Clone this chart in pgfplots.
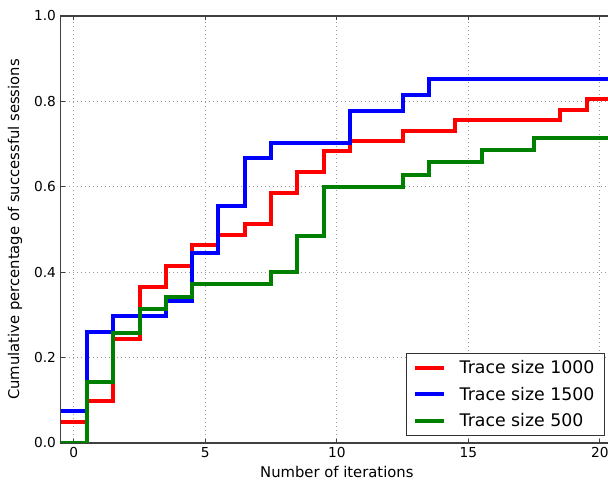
\documentclass[border=0pt]{standalone}
\usepackage{pgfplots}
\pgfplotsset{compat=1.18}
\usepackage{fontspec}
\setmainfont{DejaVu Sans}

% classic matplotlib colours
\definecolor{mplred}{RGB}{255,0,0}
\definecolor{mplblue}{RGB}{0,0,255}
\definecolor{mplgreen}{RGB}{0,128,0}

% cumulative share of successful sessions per iteration (steps at half-integers)
\pgfplotstableread{
x      y
-0.5   0.0488
0.5    0.0976
1.5    0.2439
2.5    0.3659
3.5    0.4146
4.5    0.4634
5.5    0.4878
6.5    0.5122
7.5    0.5854
8.5    0.6341
9.5    0.6829
10.5   0.7073
11.5   0.7073
12.5   0.7317
13.5   0.7317
14.5   0.7561
15.5   0.7561
16.5   0.7561
17.5   0.7561
18.5   0.7805
19.5   0.8049
20.5   0.8049
}\traceThousand

\pgfplotstableread{
x      y
-0.5   0.0741
0.5    0.2593
1.5    0.2963
2.5    0.2963
3.5    0.3333
4.5    0.4444
5.5    0.5556
6.5    0.6667
7.5    0.7037
8.5    0.7037
9.5    0.7037
10.5   0.7778
11.5   0.7778
12.5   0.8148
13.5   0.8519
14.5   0.8519
15.5   0.8519
16.5   0.8519
17.5   0.8519
18.5   0.8519
19.5   0.8519
20.5   0.8519
}\traceFifteen

\pgfplotstableread{
x      y
-0.5   0.0000
0.5    0.1429
1.5    0.2571
2.5    0.3143
3.5    0.3429
4.5    0.3714
5.5    0.3714
6.5    0.3714
7.5    0.4000
8.5    0.4857
9.5    0.6000
10.5   0.6000
11.5   0.6000
12.5   0.6286
13.5   0.6571
14.5   0.6571
15.5   0.6857
16.5   0.6857
17.5   0.7143
18.5   0.7143
19.5   0.7143
20.5   0.7143
}\traceFive

\begin{document}
\begin{tikzpicture}
\begin{axis}[
  name=ax,
  scale only axis,
  width=414.3pt, height=320.25pt,
  xmin=-0.5, xmax=20.5,
  ymin=0, ymax=1,
  xtick={0,5,10,15,20},
  ytick={0,0.2,0.4,0.6,0.8,1.0},
  yticklabel style={/pgf/number format/.cd, fixed, fixed zerofill, precision=1},
  /pgf/number format/assume math mode=true,
  ticklabel style={font=\fontsize{10.3}{12}\selectfont},
  tick align=inside,
  major tick length=3pt,
  tick style={black!75, line width=0.75pt},
  axis line style={black!75, line width=0.8pt},
  grid=major,
  major grid style={black!40, line width=0.7pt, dash pattern=on 0.75pt off 2.25pt},
  xlabel={Number of iterations},
  ylabel={Cumulative percentage of successful sessions},
  label style={font=\fontsize{11.1}{13}\selectfont},
  xlabel style={at={(axis description cs:0.5,0)}, anchor=base, yshift=-26.25pt},
  ylabel style={at={(axis description cs:-0.0828,0.5)}, anchor=center},
  legend cell align=left,
  legend image code/.code={\draw[#1, line width=3pt] (0pt,0pt) -- (21.75pt,0pt);},
  legend style={
    at={(rel axis cs:0.9853,0.0164)}, anchor=south east,
    font=\fontsize{13}{15.6}\selectfont,
    draw=black!80, line width=0.8pt, fill=white,
    inner xsep=5pt, inner ysep=3pt,
    row sep=3.2pt,
    nodes={inner sep=2.5pt},
    /tikz/every odd column/.append style={column sep=7.5pt},
  },
  every axis plot/.append style={line width=3pt, const plot mark left, mark=none},
]
\addplot[mplred]   table[x=x, y=y] {\traceThousand};
\addlegendentry{Trace size 1000}
\addplot[mplblue]  table[x=x, y=y] {\traceFifteen};
\addlegendentry{Trace size 1500}
\addplot[mplgreen] table[x=x, y=y] {\traceFive};
\addlegendentry{Trace size 500}
\end{axis}
\pgfresetboundingbox
\path[use as bounding box]
  ([shift={(-45.5pt,-28.5pt)}]ax.south west)
  rectangle ([shift={(410.5pt,332.25pt)}]ax.south west);
\end{tikzpicture}
\end{document}
